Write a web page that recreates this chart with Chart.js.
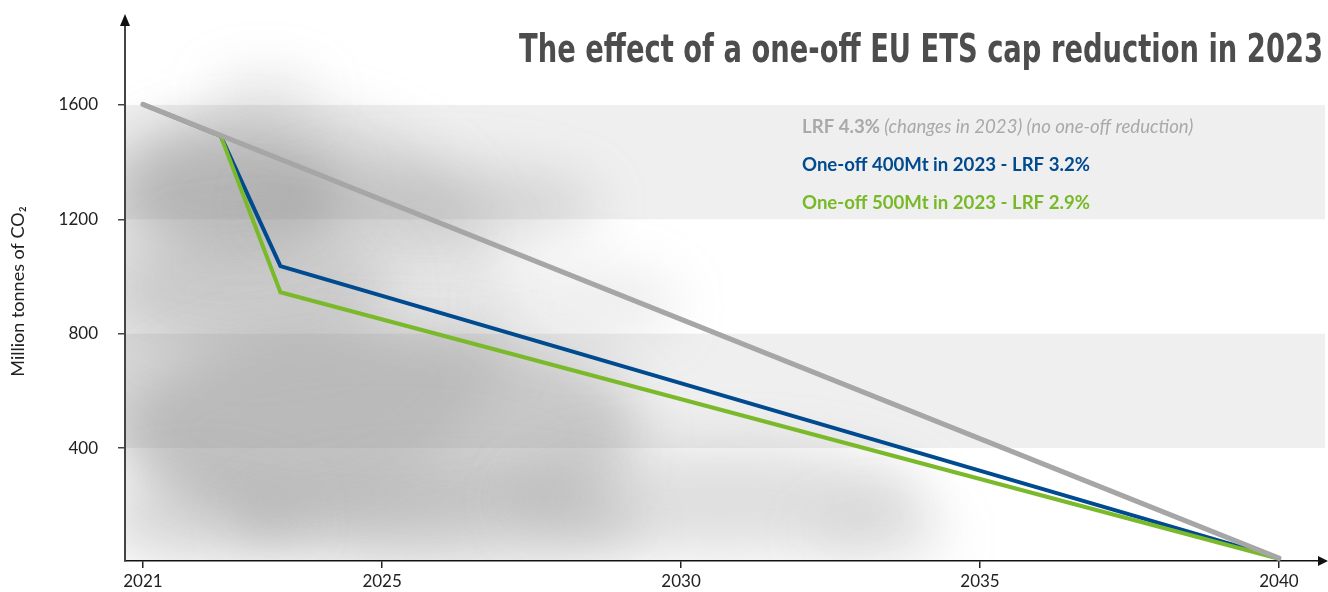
<!DOCTYPE html>
<html><head><meta charset="utf-8">
<script src="https://cdn.jsdelivr.net/npm/chart.js@4"></script>
<style>html,body{margin:0;padding:0;background:#fff;overflow:hidden}#wrap{width:1328px;height:592px;position:relative}</style>
</head><body><div id="wrap"><canvas id="c" width="1328" height="592"></canvas></div>
<script>
// ---- data ----
const titleText = 'The effect of a one-off EU ETS cap reduction in 2023';
const yAxisTitle = 'Million tonnes of CO\u2082';
const xTicks = [2021, 2025, 2030, 2035, 2040];
const yTicks = [400, 800, 1200, 1600];
const bandRanges = [[1200, 1600], [400, 800]];

const baselineYears = [2021, 2040];
const baselineValues = [1602, 15];               // LRF 4.3%
const cut400Years = [2021, 2022.3, 2023.3, 2040];
const cut400Values = [1602, 1492, 1036, 15];     // One-off 400Mt - LRF 3.2%
const cut500Years = [2021, 2022.3, 2023.3, 2040];
const cut500Values = [1602, 1492, 945, 13];      // One-off 500Mt - LRF 2.9%

const legendBold = ['LRF 4.3%', 'One-off 400Mt in 2023 - LRF 3.2%', 'One-off 500Mt in 2023 - LRF 2.9%'];
const legendItalic = [' (changes in 2023) (no one-off reduction)', '', ''];

// decorative smoke (data units: year, value, radius years, radius value, alpha)
const smoke = [
  [2023.2, 900, 3.9, 700, 0.22],
  [2022.46, 1302, 1.84, 210, 0.45],
  [2025.8, 1250, 2.84, 140, 0.28],
  [2022.79, 952, 2.34, 210, 0.3],
  [2024.96, 463, 4.35, 350, 0.4],
  [2026.0, 130, 3.4, 170, 0.3],
  [2030.65, 218, 3.5, 190, 0.28],
  [2033.33, 95, 1.2, 90, 0.2],
  [2023.04, 1644, 0.92, 63, 0.22],
  [2028.4, 900, 1.6, 150, 0.15],
  [2021.95, 148, 1.67, 157, 0.32]
];

const toXY = (xs, ys) => xs.map((x, i) => ({x: x, y: ys[i]}));
const FONT = "Lato, 'Open Sans', sans-serif";

const bgPlugin = {
  id: 'bg',
  beforeDraw(chart) {
    const {ctx, chartArea: a, scales: {x, y}} = chart;
    ctx.save();
    ctx.fillStyle = '#efefef';
    bandRanges.forEach(([lo, hi]) => {
      const t = y.getPixelForValue(hi), b = y.getPixelForValue(lo);
      ctx.fillRect(a.left, t, a.right - a.left, b - t);
    });
    ctx.beginPath();
    ctx.rect(a.left, a.top, a.right - a.left, a.bottom - a.top);
    ctx.clip();
    ctx.filter = 'blur(26px)';
    smoke.forEach(([sx, sy, rx, ry, al]) => {
      const cx = x.getPixelForValue(sx), cy = y.getPixelForValue(sy);
      const pr = Math.abs(x.getPixelForValue(sx + rx) - cx);
      const pry = Math.abs(y.getPixelForValue(sy + ry) - cy);
      ctx.fillStyle = 'rgba(140,140,140,' + al + ')';
      ctx.beginPath();
      ctx.ellipse(cx, cy, pr, pry, 0, 0, Math.PI * 2);
      ctx.fill();
    });
    ctx.restore();
  },
  afterDraw(chart) {
    const {ctx, chartArea: a} = chart;
    ctx.save();
    // arrows
    ctx.fillStyle = '#111';
    ctx.beginPath();
    ctx.moveTo(a.left, 14); ctx.lineTo(a.left - 5, 26); ctx.lineTo(a.left + 5, 26); ctx.closePath(); ctx.fill();
    ctx.beginPath();
    ctx.moveTo(1328, a.bottom); ctx.lineTo(1318, a.bottom - 5); ctx.lineTo(1318, a.bottom + 5); ctx.closePath(); ctx.fill();
    // title (condensed horizontally to the reference width)
    const fam = "'DejaVu Sans Condensed','DejaVu Sans',sans-serif";
    ctx.font = 'bold 39px ' + fam;
    const w = ctx.measureText(titleText).width;
    const sx = 804 / w;
    ctx.fillStyle = '#4d4d4d';
    ctx.textAlign = 'right';
    ctx.textBaseline = 'alphabetic';
    ctx.save();
    ctx.translate(1323, 62);
    ctx.scale(sx, 1);
    ctx.fillText(titleText, 0, 0);
    ctx.restore();
    // legend
    const colors = ['#a9a9a9', '#004a8f', '#78b928'];
    const ys = [127, 165, 203];
    ctx.font = 'bold 17px ' + FONT;
    const lw = ctx.measureText(legendBold[1]).width;
    const lfs = 17 * 288 / lw;
    ctx.textAlign = 'left';
    ctx.textBaseline = 'middle';
    legendBold.forEach((t, i) => {
      ctx.fillStyle = colors[i];
      ctx.font = 'bold ' + lfs + 'px ' + FONT;
      ctx.fillText(t, 802, ys[i]);
      if (legendItalic[i]) {
        const bw = ctx.measureText(t).width;
        ctx.font = 'italic ' + lfs + 'px ' + FONT;
        ctx.fillText(legendItalic[i], 802 + bw, ys[i]);
      }
    });
    ctx.restore();
  }
};

new Chart(document.getElementById('c'), {
  type: 'line',
  data: {
    datasets: [
      {label: legendBold[0], data: toXY(baselineYears, baselineValues), borderColor: '#a6a6a6', borderWidth: 5, order: 1},
      {label: legendBold[1], data: toXY(cut400Years, cut400Values), borderColor: '#004a8f', borderWidth: 4, order: 3},
      {label: legendBold[2], data: toXY(cut500Years, cut500Values), borderColor: '#7ab929', borderWidth: 4, order: 2}
    ]
  },
  options: {
    responsive: false,
    animation: false,
    events: [],
    layout: {padding: {top: 22, right: 3, left: 0, bottom: 0}},
    elements: {point: {radius: 0}, line: {tension: 0, borderCapStyle: 'round', borderJoinStyle: 'miter', fill: false}},
    plugins: {legend: {display: false}, tooltip: {enabled: false}, title: {display: false}},
    scales: {
      x: {
        type: 'linear', min: 2020.7, max: 2040.77,
        afterBuildTicks: s => { s.ticks = xTicks.map(v => ({value: v})); },
        afterFit: s => { s.height = 31; s.paddingLeft = 0; s.paddingRight = 0; },
        ticks: {callback: v => String(v), font: {family: FONT, size: 17}, color: '#222', padding: 3, maxRotation: 0, autoSkip: false},
        grid: {drawOnChartArea: false, tickLength: 7, color: '#222', lineWidth: 1.5},
        border: {color: '#111', width: 1.5}
      },
      y: {
        type: 'linear', min: 5, max: 1890,
        afterBuildTicks: s => { s.ticks = yTicks.map(v => ({value: v})); },
        afterFit: s => { s.width = 125; s.paddingTop = 0; s.paddingBottom = 0; },
        ticks: {callback: v => String(v), font: {family: FONT, size: 17}, color: '#222', padding: 20, autoSkip: false},
        grid: {drawOnChartArea: false, tickLength: 7, color: '#444', lineWidth: 1.5},
        border: {color: '#444', width: 2},
        title: {display: true, text: yAxisTitle, color: '#222', font: {family: FONT, size: 18}, padding: {top: 7, bottom: 0}}
      }
    }
  },
  plugins: [bgPlugin]
});
</script>
</body></html>
